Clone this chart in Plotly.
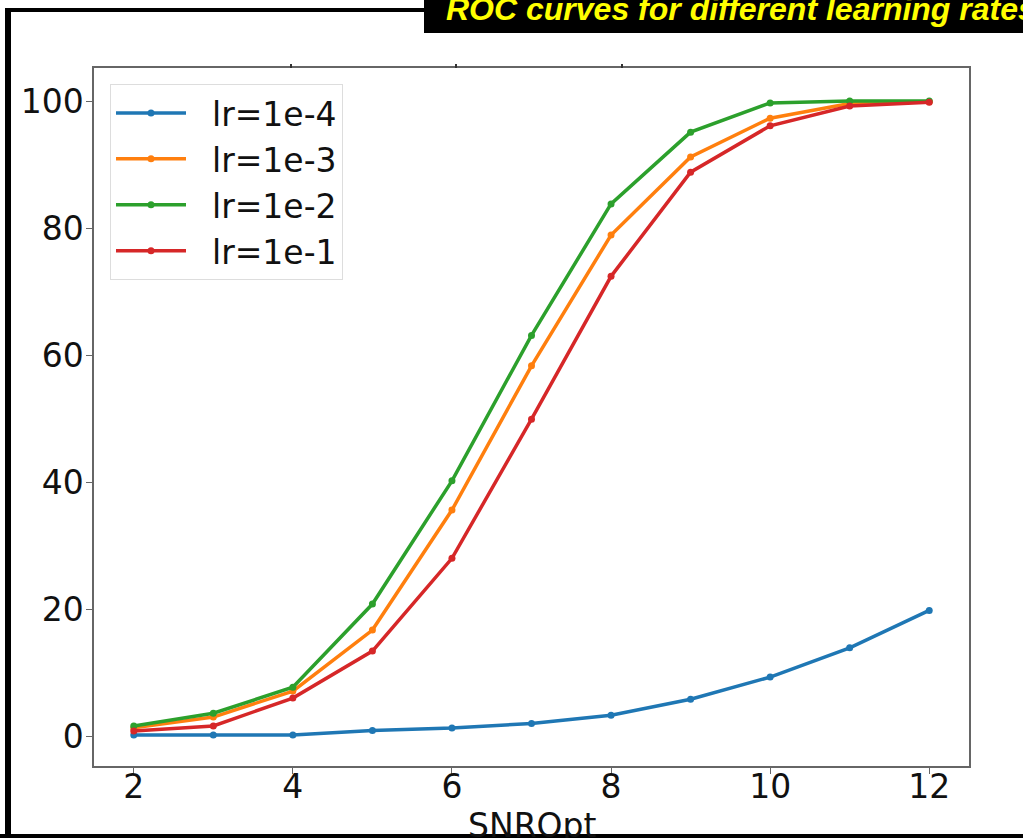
import plotly.graph_objects as go

snr = [2, 3, 4, 5, 6, 7, 8, 9, 10, 11, 12]
lr_1e4 = [0.2, 0.2, 0.2, 0.9, 1.3, 2.0, 3.3, 5.8, 9.3, 13.9, 19.8]
lr_1e3 = [1.3, 3.0, 7.1, 16.7, 35.6, 58.3, 78.9, 91.2, 97.3, 99.6, 99.9]
lr_1e2 = [1.6, 3.6, 7.7, 20.8, 40.2, 63.1, 83.8, 95.1, 99.7, 100.0, 100.0]
lr_1e1 = [0.8, 1.6, 6.0, 13.4, 28.0, 49.9, 72.4, 88.8, 96.1, 99.2, 99.8]
series_names = ["lr=1e-4", "lr=1e-3", "lr=1e-2", "lr=1e-1"]
series_colors = ["#1f77b4", "#ff7f0e", "#2ca02c", "#d62728"]
x_ticks = [2, 4, 6, 8, 10, 12]
y_ticks = [0, 20, 40, 60, 80, 100]
title_text = "ROC curves for different learning rates"
x_title = "SNROpt"

W, H = 1023, 838
L, R, T, B = 94, 54, 68, 72
PW, PH = W - L - R, H - T - B


def px(x):
    return (x - L) / PW


def py(y):
    return (H - B - y) / PH


fig = go.Figure()
for name, vals, col in zip(series_names, [lr_1e4, lr_1e3, lr_1e2, lr_1e1], series_colors):
    fig.add_trace(go.Scatter(
        x=snr, y=vals, name="\u00a0\u00a0" + name, mode="lines+markers",
        line=dict(color=col, width=3.5), marker=dict(color=col, size=7),
    ))

fig.update_layout(
    width=W, height=H,
    margin=dict(l=L, r=R, t=T, b=B, pad=0),
    paper_bgcolor="white", plot_bgcolor="white",
    font=dict(family="DejaVu Sans", size=33, color="#111111"),
    showlegend=True,
    legend=dict(
        x=px(110), y=py(84), xanchor="left", yanchor="top",
        bgcolor="rgba(255,255,255,0.85)", bordercolor="#dddddd", borderwidth=1,
        font=dict(size=33, family="DejaVu Sans"),
        itemwidth=70, tracegroupgap=0,
    ),
    xaxis=dict(
        range=[1.5, 12.5], tickvals=x_ticks, showgrid=False, zeroline=False,
        showline=True, linecolor="#666666", linewidth=1.5, mirror=True,
        ticks="outside", ticklen=6, tickcolor="#666666", tickwidth=1,
        tickfont=dict(size=33), ticklabelstandoff=-15,
    ),
    yaxis=dict(
        range=[-4.7, 105.2], tickvals=y_ticks, showgrid=False, zeroline=False,
        showline=True, linecolor="#666666", linewidth=1.5, mirror=True,
        ticks="outside", ticklen=6, tickcolor="#666666", tickwidth=1,
        tickfont=dict(size=33), ticklabelstandoff=-4,
    ),
)

shapes = []
# black title box
shapes.append(dict(type="rect", xref="paper", yref="paper",
                   x0=px(424), x1=px(1030), y0=py(33), y1=py(-5),
                   fillcolor="black", line=dict(width=0), layer="above"))
# slide frame lines
shapes.append(dict(type="rect", xref="paper", yref="paper",
                   x0=px(5), x1=px(11), y0=py(845), y1=py(8),
                   fillcolor="black", line=dict(width=0), layer="above"))
shapes.append(dict(type="rect", xref="paper", yref="paper",
                   x0=px(5), x1=px(424), y0=py(12), y1=py(8),
                   fillcolor="black", line=dict(width=0), layer="above"))
shapes.append(dict(type="rect", xref="paper", yref="paper",
                   x0=px(0), x1=px(1030), y0=py(845), y1=py(834),
                   fillcolor="black", line=dict(width=0), layer="above"))
# stray tick marks above the top spine
for xx in [291, 456, 622]:
    shapes.append(dict(type="line", xref="paper", yref="paper",
                       x0=px(xx), x1=px(xx), y0=py(68), y1=py(64),
                       line=dict(color="#333333", width=2)))
fig.update_layout(shapes=shapes)

fig.add_annotation(
    text="<b><i>" + title_text + "</i></b>", xref="paper", yref="paper",
    x=px(444), y=py(-11), xanchor="left", yanchor="top", showarrow=False,
    font=dict(family="Liberation Sans", size=32, color="#ffff00"),
)
fig.add_annotation(
    text=x_title, xref="paper", yref="paper",
    x=px(532), y=py(804), xanchor="center", yanchor="top", showarrow=False,
    font=dict(family="DejaVu Sans", size=33, color="#111111"),
)

fig.write_html("out.html")
